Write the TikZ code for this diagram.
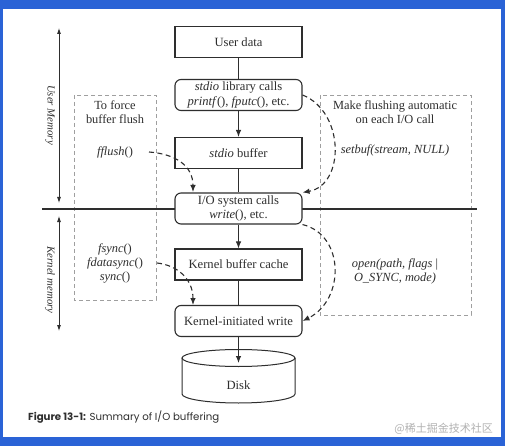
\documentclass[tikz,border=0pt]{standalone}
\usepackage{fontspec}
\setmainfont{Liberation Serif}
\newfontfamily\capfont{Poppins}
\newfontfamily\cjk{Noto Sans CJK SC}
\usetikzlibrary{arrows.meta}
\definecolor{frameblue}{HTML}{2A63D6}
\definecolor{ink}{HTML}{2E2E2E}
\tikzset{
  box/.style={draw=ink, line width=1.1pt, minimum width=127pt, minimum height=31pt, align=center, inner sep=1pt, font=\fontsize{12.6}{14.5}\selectfont, text=ink},
  rbox/.style={box, rounded corners=6pt},
  flow/.style={draw=ink, line width=1pt},
  flowarr/.style={flow, -{Latex[length=7pt,width=5.5pt]}},
  dasharr/.style={draw=ink, line width=1.1pt, dash pattern=on 5pt off 3.5pt, -{Latex[length=7pt,width=5.5pt]}},
  dbox/.style={draw=gray!75, line width=0.8pt, dash pattern=on 4pt off 3pt},
  lbl/.style={align=center, font=\fontsize{12.4}{14}\selectfont, text=ink, inner sep=0pt},
  side/.style={flow, line width=0.8pt, {Latex[length=6pt,width=4pt]}-{Latex[length=6pt,width=4pt]}},
  sidelbl/.style={rotate=-90, font=\fontsize{10.8}{12}\selectfont\itshape, text=ink, inner sep=0pt}
}
\begin{document}
\begin{tikzpicture}[x=1pt,y=-1pt]
\fill[frameblue] (0,0) rectangle (505,446);
\fill[white] (3,9) rectangle (501,437);
\useasboundingbox (0,0) rectangle (505,446);

% dashed side boxes
\draw[dbox] (74,95) rectangle (156,300);
\draw[dbox] (320,95) rectangle (471,315);

% kernel/user line
\coordinate (hl) at (42,209);
\coordinate (hr) at (477,209);
\draw[ink, line width=1.5pt] (hl) -- (hr);

% main boxes
\node[box]  (ud)  at (238.5,42)  {User data};
\node[rbox] (lib) at (238.5,95)  {\textit{stdio} library calls\\\textit{printf}(), \textit{fputc}(), etc.};
\node[box]  (buf) at (238.5,153) {\textit{stdio} buffer};
\node[rbox,fill=white] (sys) at (238.5,208.5) {I/O system calls\\\textit{write}(), etc.};
\node[box]  (kbc) at (238.5,264.5) {Kernel buffer cache};
\node[rbox] (kiw) at (238.5,321) {Kernel-initiated write};

% disk
\node[inner sep=0pt, font=\fontsize{12.6}{14}\selectfont, text=ink] (disk) at (238.5,385) {Disk};
\coordinate (dtop) at (238.5,363);
\draw[ink, line width=1pt] (238.5,358) ellipse [x radius=56.5, y radius=8.5];
\draw[ink, line width=1pt] (182,358) -- (182,394) arc[start angle=180, end angle=0, x radius=56.5, y radius=9] -- (295,358);

% flow connectors
\draw[flow] (ud) -- (lib);
\draw[flowarr] (lib) -- (buf);
\draw[flow] (buf) -- (sys);
\draw[flowarr] (sys) -- (kbc);
\draw[flow] (kbc) -- (kiw);
\draw[flowarr] (kiw) -- (dtop);

% side arrows
\coordinate (ua) at (59,28);
\coordinate (ub) at (59,203);
\coordinate (ka) at (59,216);
\coordinate (kb) at (59,331);
\draw[side] (ua) -- (ub);
\draw[side] (ka) -- (kb);
\node[sidelbl] (um) at (50,115) {User Memory};
\node[sidelbl] (km) at (50,280) {Kernel memory};

% left texts
\node[lbl] (force) at (115,112) {To force\\buffer flush};
\node[lbl] (ffl) at (115,152) {\textit{fflush}()};
\node[lbl] (fsy) at (115,263) {\textit{fsync}()\\\textit{fdatasync}()\\\textit{sync}()};
\coordinate (fsyo) at (157,263);
\coordinate (fflo) at (149,152);

% right texts
\node[lbl] (auto) at (395,112) {Make flushing automatic\\on each I/O call};
\node[lbl] (sb) at (395,150) {\textit{setbuf(stream, NULL)}};
\node[lbl] (op) at (395,271) {\textit{open(path, flags} |\\\textit{O\_SYNC, mode)}};

% dashed arrows
\draw[dasharr] (lib.east) .. controls (345,112) and (345,185) .. (sys.north east);
\draw[dasharr] (sys.south east) .. controls (345,235) and (345,300) .. (kiw.east);
\draw[dasharr] (fflo) .. controls (176,154) and (193,166) .. (193,192);
\draw[dasharr] (fsyo) .. controls (176,265) and (193,278) .. (193,305);

% caption
\node[anchor=base west, inner sep=0pt, font=\capfont\fontsize{10.2}{12}\selectfont, text=ink] (cap) at (28,420) {\textbf{Figure 13-1:} Summary of I/O buffering};
\node[anchor=base east, inner sep=0pt, font=\cjk\fontsize{11}{13}\selectfont, text=gray!60] (wm) at (493,432) {@稀土掘金技术社区};
\end{tikzpicture}
\end{document}
